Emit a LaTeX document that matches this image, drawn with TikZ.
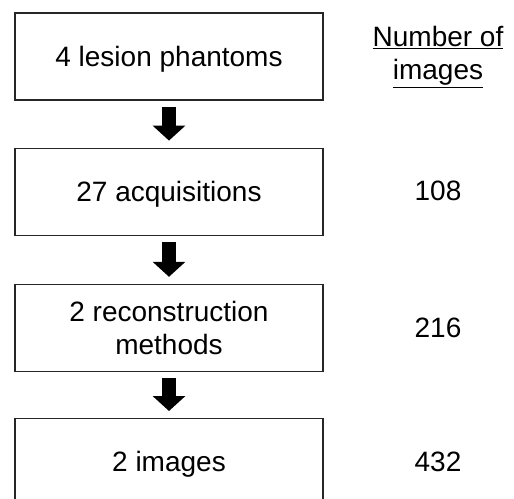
\documentclass[tikz,border=0pt]{standalone}
\usepackage{fontspec}
\setmainfont{Liberation Sans}
\usetikzlibrary{arrows.meta,positioning}
\tikzset{
  stage/.style={draw=black!85, line width=1.2pt, minimum width=308pt,
    minimum height=87pt, align=center, font=\fontsize{28}{33}\selectfont},
  oneline/.style={text depth=1pt},
  count/.style={align=center, font=\fontsize{28}{33}\selectfont},
  flow/.style={line width=14pt, -{Triangle[length=15pt,width=32pt]},
    shorten <=6pt, shorten >=7pt},
}

\begin{document}
\begin{tikzpicture}[x=1pt, y=1pt, node distance=47pt]
    \useasboundingbox (0,0) rectangle (514,-498);
    \node[stage, oneline] (b1) at (169,-56.5) {4 lesion phantoms};
    \node[stage, oneline] (b2) [below=of b1] {27 acquisitions};
    \node[stage] (b3) [below=48pt of b2] {2 reconstruction\\methods};
    \node[stage, oneline] (b4) [below=46pt of b3] {2 images};
    \node[count] (hdr) at (438,-57) {\underline{Number of}\\\underline{images}};
    \node[count, oneline] (n2) at (b2.center -| hdr) {108};
    \node[count, oneline] (n3) at (b3.center -| hdr) {216};
    \node[count, oneline] (n4) at (b4.center -| hdr) {432};
    \draw[flow] (b1) -- (b2);
    \draw[flow] (b2) -- (b3);
    \draw[flow] (b3) -- (b4);
  \end{tikzpicture}
\end{document}
